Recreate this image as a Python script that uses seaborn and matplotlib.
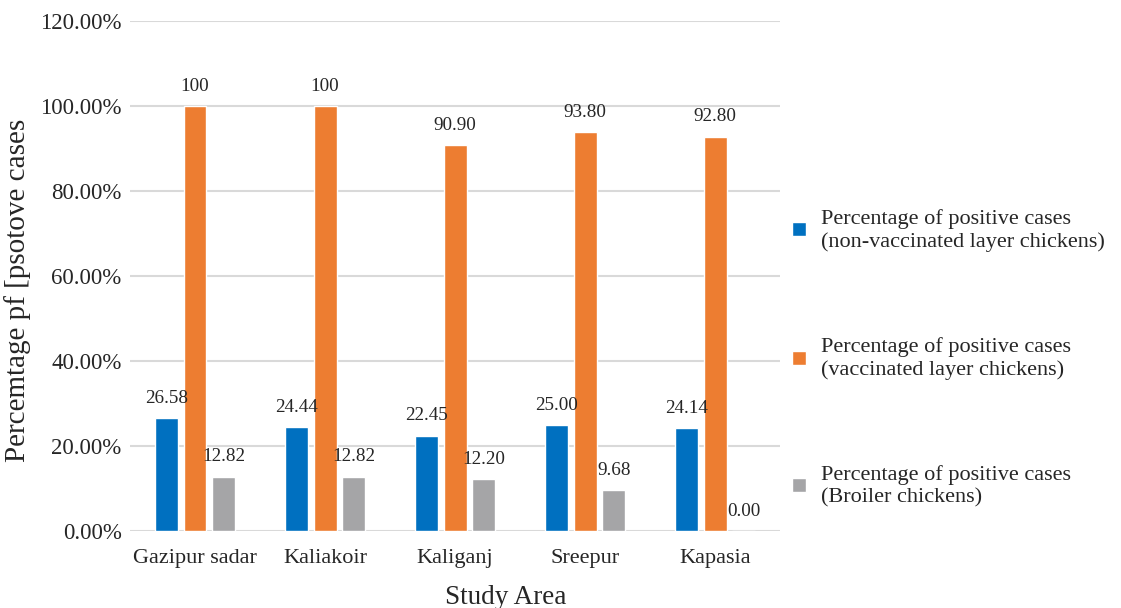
import pandas as pd
import seaborn as sns
import matplotlib.pyplot as plt
from matplotlib.ticker import FuncFormatter

# data
areas = ['Gazipur sadar', 'Kaliakoir', 'Kaliganj', 'Sreepur', 'Kapasia']
series = ['Percentage of positive cases\n(non-vaccinated layer chickens)',
          'Percentage of positive cases\n(vaccinated layer chickens)',
          'Percentage of positive cases\n(Broiler chickens)']
non_vaccinated = [26.58, 24.44, 22.45, 25.00, 24.14]
vaccinated = [100, 100, 90.90, 93.80, 92.80]
broiler = [12.82, 12.82, 12.20, 9.68, 0.00]
non_vaccinated_labels = ['26.58', '24.44', '22.45', '25.00', '24.14']
vaccinated_labels = ['100', '100', '90.90', '93.80', '92.80']
broiler_labels = ['12.82', '12.82', '12.20', '9.68', '0.00']
y_ticks = [0, 20, 40, 60, 80, 100, 120]

colors = ['#0070C0', '#ED7D31', '#A5A5A7']

df = pd.DataFrame({
    'area': areas * 3,
    'series': [series[0]] * 5 + [series[1]] * 5 + [series[2]] * 5,
    'value': non_vaccinated + vaccinated + broiler,
})

sns.set_style('white')
plt.rcParams['font.family'] = ['Liberation Serif', 'DejaVu Serif']
plt.rcParams['text.color'] = '#262626'

fig = plt.figure(figsize=(11.21, 6.08), dpi=100)
ax = fig.add_axes([0.116, 0.1266, 0.58, 0.8389])

sns.barplot(data=df, x='area', y='value', hue='series', palette=colors,
            width=0.66, gap=0.2, saturation=1, ax=ax, legend=True, zorder=3)

for cont, labs in zip(ax.containers, [non_vaccinated_labels, vaccinated_labels, broiler_labels]):
    ax.bar_label(cont, labels=labs, padding=8, fontsize=13.8, color='#262626')

ax.set_ylim(0, 120)
ax.set_xlim(-0.5, 4.5)
ax.set_yticks(y_ticks)
ax.yaxis.set_major_formatter(FuncFormatter(lambda v, p: f'{v:.2f}%'))
ax.grid(axis='y', color='#D9D9D9', linewidth=1.5, zorder=0)
ax.set_axisbelow(True)
for s in ax.spines.values():
    s.set_visible(False)
ax.tick_params(axis='y', length=0, labelsize=16.5, colors='#262626', pad=6)
ax.tick_params(axis='x', length=0, labelsize=16, colors='#262626', pad=13)

ax.set_xlabel('Study Area', fontsize=19.5, color='#262626')
ax.xaxis.set_label_coords(0.577, -0.105, transform=ax.transAxes)
ax.set_ylabel('Percemtage pf [psotove cases', fontsize=21, color='#262626')
ax.yaxis.set_label_coords(-0.152, 0.4725, transform=ax.transAxes)

handles, labels = ax.get_legend_handles_labels()
ax.legend_.remove()
fig.legend(handles, labels, loc='center left', bbox_to_anchor=(0.689, 0.411),
           frameon=False, fontsize=16, labelspacing=3.85, handlelength=0.6,
           handleheight=0.6, handletextpad=0.7)

fig.savefig('out.png', dpi=100)
